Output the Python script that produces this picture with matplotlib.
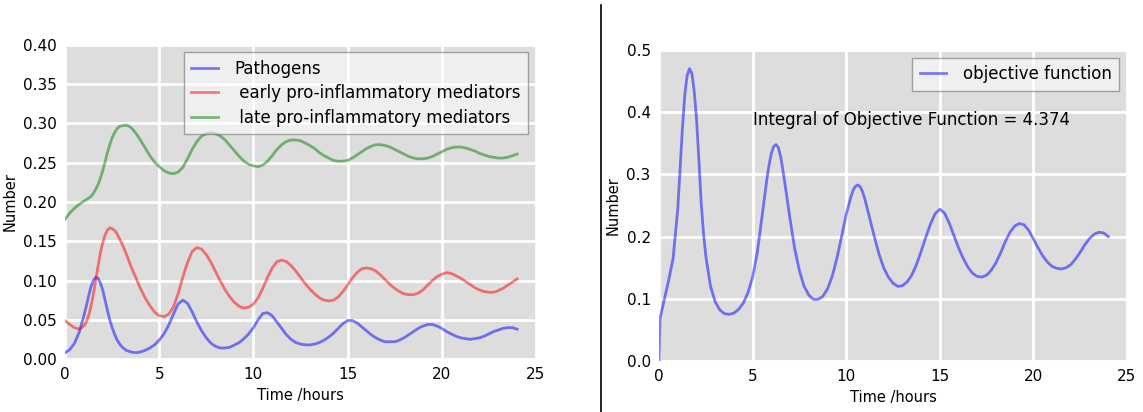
import numpy as np
import matplotlib
matplotlib.use("Agg")
import matplotlib.pyplot as plt
from matplotlib.lines import Line2D

# sample times (hours) for the mediator model, finer around the first peak
t_left = list(np.arange(0, 1, 0.25)) + list(np.arange(1, 3, 0.125)) + list(np.arange(3, 24.01, 0.25))

pathogens = [0.008, 0.012, 0.020, 0.034,
             0.055, 0.067, 0.080, 0.092, 0.100, 0.104, 0.103, 0.097,
             0.088, 0.075, 0.062, 0.050, 0.040, 0.032, 0.025, 0.020,
             0.016, 0.011, 0.009, 0.008, 0.009, 0.011, 0.014, 0.018, 0.024, 0.032, 0.043, 0.057,
             0.070, 0.075, 0.071, 0.060, 0.047, 0.036, 0.027, 0.020, 0.016, 0.014, 0.014, 0.015,
             0.018, 0.021, 0.026, 0.032, 0.040, 0.050, 0.058, 0.059, 0.055, 0.047, 0.039, 0.031,
             0.025, 0.021, 0.019, 0.018, 0.018, 0.019, 0.021, 0.024, 0.028, 0.033, 0.039, 0.045,
             0.049, 0.049, 0.046, 0.041, 0.036, 0.031, 0.027, 0.024, 0.022, 0.022, 0.022, 0.024,
             0.027, 0.031, 0.035, 0.039, 0.042, 0.044, 0.044, 0.042, 0.039, 0.035, 0.032, 0.029,
             0.027, 0.026, 0.025, 0.026, 0.027, 0.029, 0.032, 0.035, 0.037, 0.039, 0.040, 0.040,
             0.038]

early = [0.049, 0.044, 0.040, 0.038,
         0.042, 0.047, 0.055, 0.067, 0.082, 0.100, 0.118, 0.135,
         0.148, 0.158, 0.164, 0.167, 0.166, 0.164, 0.160, 0.154,
         0.148, 0.134, 0.118, 0.104, 0.090, 0.078, 0.068, 0.060, 0.055, 0.054, 0.057, 0.066,
         0.083, 0.104, 0.123, 0.137, 0.142, 0.140, 0.133, 0.123, 0.111, 0.099, 0.088, 0.079,
         0.072, 0.067, 0.065, 0.066, 0.070, 0.078, 0.090, 0.104, 0.116, 0.124, 0.126, 0.124,
         0.119, 0.112, 0.104, 0.096, 0.089, 0.083, 0.078, 0.075, 0.074, 0.075, 0.079, 0.086,
         0.094, 0.103, 0.110, 0.115, 0.116, 0.115, 0.112, 0.107, 0.101, 0.095, 0.090, 0.086,
         0.083, 0.082, 0.082, 0.084, 0.088, 0.094, 0.100, 0.105, 0.108, 0.110, 0.109, 0.106,
         0.103, 0.099, 0.095, 0.091, 0.088, 0.086, 0.085, 0.085, 0.087, 0.090, 0.094, 0.098,
         0.102]

late = [0.178, 0.186, 0.192, 0.197,
        0.201, 0.203, 0.205, 0.207, 0.211, 0.216, 0.222, 0.230,
        0.240, 0.251, 0.263, 0.273, 0.282, 0.288, 0.293, 0.296,
        0.297, 0.298, 0.295, 0.288, 0.279, 0.269, 0.259, 0.251, 0.245, 0.240, 0.237, 0.236,
        0.238, 0.244, 0.255, 0.267, 0.277, 0.284, 0.287, 0.288, 0.287, 0.284, 0.279, 0.272,
        0.265, 0.258, 0.252, 0.248, 0.246, 0.245, 0.247, 0.252, 0.259, 0.267, 0.273, 0.277,
        0.279, 0.279, 0.278, 0.275, 0.272, 0.268, 0.263, 0.259, 0.256, 0.253, 0.252, 0.252,
        0.253, 0.256, 0.260, 0.264, 0.268, 0.271, 0.273, 0.273, 0.272, 0.270, 0.267, 0.264,
        0.261, 0.258, 0.256, 0.255, 0.255, 0.256, 0.258, 0.261, 0.264, 0.267, 0.269, 0.270,
        0.270, 0.269, 0.267, 0.265, 0.262, 0.260, 0.258, 0.257, 0.256, 0.256, 0.257, 0.259,
        0.261]

# objective function over time
t_right = [0, 0.05, 0.25, 0.5, 0.75, 1.0, 1.125, 1.25, 1.375, 1.5, 1.625, 1.75, 1.875,
           2.0, 2.125, 2.25, 2.375, 2.5, 2.75, 3.0, 3.25, 3.5, 3.75, 4.0, 4.25, 4.5, 4.75,
           5.0, 5.25, 5.5, 5.75, 5.875, 6.0, 6.125, 6.25, 6.375, 6.5, 6.625, 6.75, 7.0,
           7.25, 7.5, 7.75, 8.0, 8.25, 8.5, 8.75, 9.0, 9.25, 9.5, 9.75, 10.0, 10.25, 10.375,
           10.5, 10.625, 10.75, 10.875, 11.0, 11.25, 11.5, 11.75, 12.0, 12.25, 12.5, 12.75,
           13.0, 13.25, 13.5, 13.75, 14.0, 14.25, 14.5, 14.75, 15.0, 15.25, 15.5, 15.75,
           16.0, 16.25, 16.5, 16.75, 17.0, 17.25, 17.5, 17.75, 18.0, 18.25, 18.5, 18.75,
           19.0, 19.25, 19.5, 19.75, 20.0, 20.25, 20.5, 20.75, 21.0, 21.25, 21.5, 21.75,
           22.0, 22.25, 22.5, 22.75, 23.0, 23.25, 23.5, 23.75, 24.0]
objective = [0.0, 0.068, 0.095, 0.128, 0.165, 0.245, 0.310, 0.375, 0.428, 0.459, 0.470, 0.463, 0.435,
             0.390, 0.325, 0.255, 0.205, 0.168, 0.120, 0.095, 0.082, 0.076, 0.075, 0.077, 0.083, 0.093, 0.110,
             0.135, 0.175, 0.232, 0.290, 0.315, 0.334, 0.345, 0.348, 0.343, 0.328, 0.305, 0.280, 0.228,
             0.180, 0.145, 0.120, 0.106, 0.099, 0.099, 0.104, 0.116, 0.136, 0.165, 0.200, 0.236, 0.264, 0.275,
             0.281, 0.283, 0.280, 0.272, 0.260, 0.230, 0.200, 0.172, 0.150, 0.135, 0.125, 0.120,
             0.121, 0.127, 0.138, 0.155, 0.176, 0.199, 0.220, 0.237, 0.244, 0.238, 0.222, 0.202,
             0.182, 0.165, 0.151, 0.141, 0.136, 0.135, 0.138, 0.146, 0.158, 0.174, 0.192, 0.207,
             0.217, 0.221, 0.219, 0.210, 0.196, 0.182, 0.169, 0.159, 0.152, 0.149, 0.148, 0.150,
             0.155, 0.164, 0.175, 0.187, 0.197, 0.204, 0.207, 0.206, 0.200]
integral = 4.374

bg = '#dddddd'


def style(ax):
    ax.set_facecolor(bg)
    for s in ax.spines.values():
        s.set_visible(False)
    ax.grid(True, color='white', linewidth=2)
    ax.set_axisbelow(True)
    ax.tick_params(length=0, pad=6, labelsize=11)
    ax.set_xlim(0, 25)
    ax.set_xticks(range(0, 26, 5))
    ax.set_xlabel('Time /hours', fontsize=10.5)
    ax.set_ylabel('Number', fontsize=10.5)


def legend(ax, **kw):
    leg = ax.legend(loc='upper right', fontsize=12, handlelength=1.6, handletextpad=1.0,
                    borderpad=0.45, fancybox=False, framealpha=0.55, borderaxespad=0.45, **kw)
    leg.get_frame().set_facecolor('white')
    leg.get_frame().set_edgecolor('#666666')
    return leg


fig = plt.figure(figsize=(11.43, 4.12), dpi=100)
ax1 = fig.add_axes([0.0569, 0.1286, 0.412, 0.7622])
ax2 = fig.add_axes([0.5766, 0.1238, 0.4094, 0.7548])

ax1.plot(t_left, pathogens, color='b', alpha=0.5, lw=2, label='Pathogens')
ax1.plot(t_left, early, color='r', alpha=0.5, lw=2, label=' early pro-inflammatory mediators')
ax1.plot(t_left, late, color='g', alpha=0.5, lw=2, label=' late pro-inflammatory mediators')
style(ax1)
ax1.set_ylim(0, 0.40)
ax1.set_yticks(np.arange(0, 0.401, 0.05))
ax1.set_yticklabels(['%.2f' % v for v in np.arange(0, 0.401, 0.05)])
legend(ax1, labelspacing=0.38)

ax2.plot(t_right, objective, color='b', alpha=0.5, lw=2, label='objective function')
style(ax2)
ax2.set_ylim(0, 0.5)
ax2.set_yticks(np.arange(0, 0.51, 0.1))
ax2.set_yticklabels(['%.1f' % v for v in np.arange(0, 0.51, 0.1)])
ax2.text(5, 0.38, 'Integral of Objective Function = %.3f' % integral, fontsize=12)
legend(ax2)

# divider between the two panels
fig.add_artist(Line2D([0.526, 0.526], [0.0, 0.988], color='black', lw=1.2,
                      transform=fig.transFigure))

fig.savefig('out.png', dpi=100)
